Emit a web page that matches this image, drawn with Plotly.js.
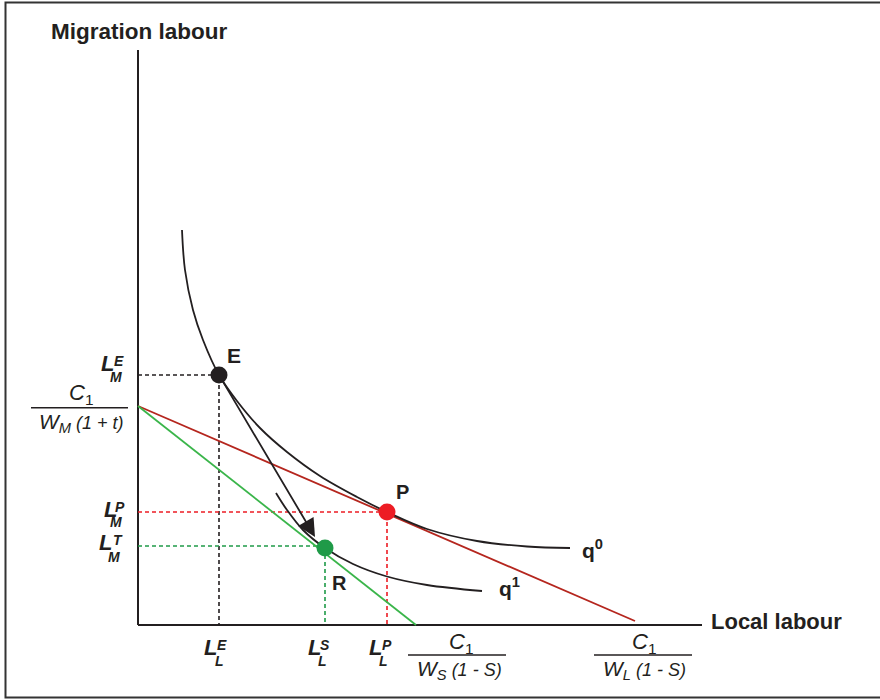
<!DOCTYPE html>
<html>
<head>
<meta charset="utf-8">
<script src="https://cdn.plot.ly/plotly-3.0.1.min.js"></script>
<style>html,body{margin:0;padding:0;background:#fff;}#chart{width:880px;height:700px;}</style>
</head>
<body>
<div id="chart"></div>
<script>
// ---- data (economic quantities) ----
const q0X = [44, 47, 55, 65, 81, 99, 122, 149, 182, 219, 249, 289, 339, 389, 432];
const q0Y = [395, 355, 315, 285, 250, 224, 197, 173, 149, 128, 113, 96, 84, 78.5, 77];
const q1X = [138, 149, 165, 187, 215, 249, 289, 344];
const q1Y = [132, 115, 95, 77, 61, 48.5, 40, 34];
const budgetRedX = [0, 497];
const budgetRedY = [219, 4];
const budgetGreenX = [0, 278];
const budgetGreenY = [219, 0];
const pointNames = ['E', 'P', 'R'];
const pointX = [81, 249, 187];
const pointY = [250, 113, 77];
const arrowTail = [81, 250];
const arrowTip = [177, 88];
const axisYTop = 575;
const axisXEnd = 564;

// ---- helpers ----
const OX = 138, OY = 625;           // pixel position of origin
const px = p => p - OX;             // pixel -> data x
const py = p => OY - p;             // pixel -> data y
const FONT = 'Liberation Sans, Arial, Helvetica, sans-serif';
const INK = '#231f20';
const RED = '#ed1c24', DARKRED = '#b5261e', GREEN = '#3ab54a', DGREEN = '#1f9a48';

const traces = [];
function line(x, y, color, width, dash, shape) {
  traces.push({x: x, y: y, type: 'scatter', mode: 'lines', hoverinfo: 'skip',
    line: {color: color, width: width, dash: dash || 'solid', shape: shape || 'linear', smoothing: 1}});
}
// axes
line([0, 0], [0, axisYTop], INK, 2);
line([0, axisXEnd], [0, 0], INK, 2);
// dashed guides
const iE = 0, iP = 1, iR = 2;
line([0, pointX[iE], pointX[iE]], [pointY[iE], pointY[iE], 0], INK, 1.6, '4px,3px');
line([0, pointX[iP], pointX[iP]], [pointY[iP], pointY[iP], 0], RED, 1.6, '4px,3px');
line([0, pointX[iR], pointX[iR]], [pointY[iR] + 2, pointY[iR] + 2, 0], DGREEN, 1.6, '4px,3px');
// budget lines
line(budgetRedX, budgetRedY, DARKRED, 1.8);
line(budgetGreenX, budgetGreenY, GREEN, 1.8);
// indifference curves
line(q0X, q0Y, INK, 1.8, 'solid', 'spline');
line(q1X, q1Y, INK, 1.8, 'solid', 'spline');
// points
traces.push({x: pointX, y: pointY, type: 'scatter', mode: 'markers', hoverinfo: 'skip',
  marker: {size: 17, color: [INK, RED, DGREEN], line: {width: 0}}});

const ann = [];
function txt(t, xp, yp, size, opt) {
  ann.push(Object.assign({text: t, x: px(xp), y: py(yp), xref: 'x', yref: 'y', showarrow: false,
    xanchor: 'center', yanchor: 'middle', font: {family: FONT, size: size, color: INK}}, opt || {}));
}
// stacked L labels: L with superscript and subscript
function Llabel(sup, sub, Lx, Ly, supX, supY, subX, subY) {
  txt('<b><i>L</i></b>', Lx, Ly, 22);
  txt('<b><i>' + sup + '</i></b>', supX, supY, 14);
  txt('<b><i>' + sub + '</i></b>', subX, subY, 14);
}
Llabel('E', 'M', 107.5, 363, 118.7, 360.5, 116, 377);
Llabel('P', 'M', 110, 509, 120, 506.5, 115.7, 522);
Llabel('T', 'M', 105.8, 542.5, 117.7, 539.5, 113.7, 556.5);
Llabel('E', 'L', 210.8, 647.5, 222.3, 645.3, 219.2, 661);
Llabel('S', 'L', 314.2, 647.5, 325.3, 645.3, 322.2, 661);
Llabel('P', 'L', 375.5, 647.5, 387.2, 645.3, 383.8, 661);

// fractions
const num = '<i>C</i><sub>1</sub>';
txt(num, 81.3, 394, 22);
txt('<i>W</i><sub><i>M</i></sub><span style="font-size:18px"><i> (1 + t)</i></span>', 81.7, 423, 21);
txt(num, 460.8, 643, 22);
txt('<i>W</i><sub><i>S</i></sub><span style="font-size:18px"><i> (1 - S)</i></span>', 459.2, 670, 21);
txt(num, 644.2, 643, 22);
txt('<i>W</i><sub><i>L</i></sub><span style="font-size:18px"><i> (1 - S)</i></span>', 644.7, 670, 21);

// titles
txt('<b>Migration labour</b>', 139, 31, 22.5);
txt('<b>Local labour</b>', 776, 621, 22);

// point labels
txt('<b>E</b>', 233.5, 355.5, 21);
txt('<b>P</b>', 402.5, 491.5, 20);
txt('<b>R</b>', 339.7, 582.5, 20);
txt('<b>q<sup>0</sup></b>', 592, 549, 21);
txt('<b>q<sup>1</sup></b>', 509, 587, 21);

// arrow E -> R
ann.push({x: arrowTip[0], y: arrowTip[1], ax: arrowTail[0], ay: arrowTail[1], xref: 'x', yref: 'y',
  axref: 'x', ayref: 'y', text: '', showarrow: true, arrowhead: 2, arrowsize: 2, arrowwidth: 1.8,
  arrowcolor: INK, startstandoff: 6});

const shapes = [
  // fraction bars
  {type: 'line', xref: 'x', yref: 'y', x0: px(31), x1: px(128), y0: py(407.7), y1: py(407.7), line: {color: INK, width: 1.5}},
  {type: 'line', xref: 'x', yref: 'y', x0: px(408), x1: px(506), y0: py(655), y1: py(655), line: {color: INK, width: 1.5}},
  {type: 'line', xref: 'x', yref: 'y', x0: px(594), x1: px(692), y0: py(655), y1: py(655), line: {color: INK, width: 1.5}},
  // outer frame (right edge lies outside the picture)
  {type: 'rect', xref: 'paper', yref: 'paper', x0: 5.5 / 880, x1: 1.05, y0: 1 - 697.5 / 700, y1: 1 - 2.5 / 700,
   line: {color: '#333333', width: 2}, fillcolor: 'rgba(0,0,0,0)'}
];

const layout = {
  width: 880, height: 700, margin: {l: 0, r: 0, t: 0, b: 0},
  paper_bgcolor: '#ffffff', plot_bgcolor: '#ffffff', showlegend: false,
  xaxis: {range: [px(0), px(880)], visible: false, fixedrange: true},
  yaxis: {range: [py(700), py(0)], visible: false, fixedrange: true},
  annotations: ann, shapes: shapes
};
Plotly.newPlot('chart', traces, layout, {staticPlot: true, displayModeBar: false});
</script>
</body>
</html>
